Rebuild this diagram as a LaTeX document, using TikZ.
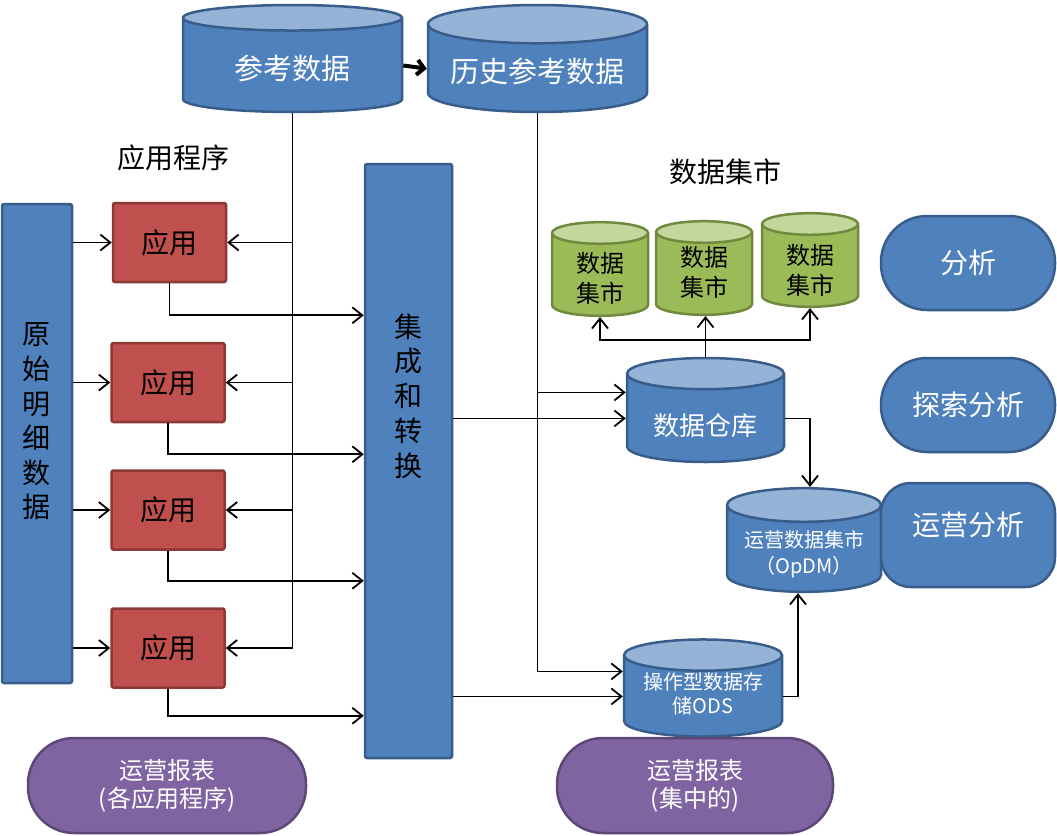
\documentclass[tikz,border=0pt]{standalone}
\usepackage{fontspec}
\setmainfont{Noto Sans CJK SC}
\usetikzlibrary{shapes.geometric,arrows.meta,positioning}

\definecolor{blueF}{HTML}{4F81BD}
\definecolor{blueD}{HTML}{385D8A}
\definecolor{blueT}{HTML}{95B3D7}
\definecolor{redF}{HTML}{C0504D}
\definecolor{redD}{HTML}{8C3836}
\definecolor{greenF}{HTML}{9BBB59}
\definecolor{greenD}{HTML}{71893F}
\definecolor{greenT}{HTML}{C3D69B}
\definecolor{purpleF}{HTML}{8064A2}
\definecolor{purpleD}{HTML}{5C4776}

\newcommand\fsz[2]{\fontsize{#1}{#2}\selectfont}
\newcommand\dbtext[2]{\raisebox{#1}[\height][\depth]{\begin{tabular}{@{}c@{}}#2\end{tabular}}}

\tikzset{
  db/.style={cylinder, shape border rotate=90, draw=blueD, line width=2.5pt,
    cylinder uses custom fill, cylinder body fill=blueF, cylinder end fill=blueT,
    text=white, inner sep=0pt, align=center, anchor=shape center},
  mart/.style={db, draw=greenD, cylinder body fill=greenF, cylinder end fill=greenT,
    text=black, font=\fsz{24}{30}, minimum width=96pt, minimum height=81pt},
  app/.style={rectangle, draw=redD, fill=redF, line width=2.5pt, rounded corners=2pt,
    minimum width=113pt, minimum height=79pt, font=\fsz{28}{34}},
  bar/.style={rectangle, draw=blueD, fill=blueF, line width=2.5pt, rounded corners=2pt},
  pill/.style={rectangle, rounded corners=46pt, draw=blueD, fill=blueF, line width=2.5pt,
    minimum width=174pt, minimum height=94pt, text=white, font=\fsz{28}{34}},
  report/.style={pill, draw=purpleD, fill=purpleF, minimum width=278pt, minimum height=95pt,
    align=center, font=\fsz{24}{28}},
  conn/.style={line width=1.8pt, -{Straight Barb[length=10pt,width=16pt]}},
}

\begin{document}
\begin{tikzpicture}[x=1pt, y=-1pt]
\useasboundingbox (0,0) rectangle (1057,835);

% reference data
\node[db, aspect=0.22, minimum width=219pt, minimum height=107pt, font=\fsz{29}{34}] (ref) at (292.5,58.5) {\dbtext{-7pt}{参考数据}};
\node[db, aspect=0.22, minimum width=219pt, minimum height=107pt, font=\fsz{29}{34}] (hist) at (537.5,58.5) {\dbtext{-7pt}{历史参考数据}};

% applications
\node[font=\fsz{28}{34}] (applbl) at (173,158) {应用程序};
\node[bar, minimum width=70pt, minimum height=479pt,
  label={[font=\fsz{28}{34.6}, align=center, yshift=22pt]center:原\\始\\明\\细\\数\\据}] (raw) at (37,443.5) {};
\node[app] (app1) at (169.5,242.5) {应用};
\node[app] (app2) at (168,382.5) {应用};
\node[app] (app3) at (168,510) {应用};
\node[app] (app4) at (168,648) {应用};
\node[bar, minimum width=87pt, minimum height=594pt,
  label={[font=\fsz{28}{34.8}, align=center, yshift=65pt]center:集\\成\\和\\转\\换}] (etl) at (408.5,461) {};

% marts and warehouse
\node[font=\fsz{28}{34}] (dmlbl) at (725,172) {数据集市};
\node[mart, aspect=0.45] (dm1) at (600,269) {\dbtext{-6pt}{数据\\集市}};
\node[mart, aspect=0.45] (dm2) at (704,268) {\dbtext{-1pt}{数据\\集市}};
\node[mart, aspect=0.45] (dm3) at (810,260) {\dbtext{-7pt}{数据\\集市}};
\node[db, aspect=0.3, minimum width=157pt, minimum height=104pt, font=\fsz{26}{32}] (dw) at (705.5,410) {\dbtext{-11pt}{数据仓库}};
\node[db, aspect=0.28, minimum width=154pt, minimum height=90pt, font=\fsz{20}{26}] (opdm) at (804,540) {\dbtext{-6pt}{运营数据集市\\（OpDM）}};
\node[db, aspect=0.26, minimum width=158pt, minimum height=80pt, font=\fsz{20}{24.5}] (ods) at (703,688) {\dbtext{0pt}{操作型数据存\\储ODS}};

% analysis
\node[pill] (ana) at (968,263) {\dbtext{-4pt}{分析}};
\node[pill] (explore) at (968,405) {探索分析};
\node[pill, rounded corners=30pt, minimum height=104pt] (opana) at (968,535) {\dbtext{6pt}{运营分析}};

% reports
\node[report] (rep1) at (167,785.5) {运营报表\\(各应用程序)};
\node[report, minimum width=276pt] (rep2) at (695,785.5) {运营报表\\(集中的)};

% connectors
\draw[line width=4pt, -{Straight Barb[length=7pt,width=15pt]}] (ref.east) -- (hist.west);
\draw[conn] (ref.south) |- (app4.east);
\foreach \i in {1,2,3} {
  \draw[conn] (ref.south |- app\i.east) -- (app\i.east);
}
\foreach \i in {1,...,4} {
  \draw[conn] (raw.east |- app\i.west) -- (app\i.west);
}
\foreach \i/\d in {1/32,2/31,3/30,4/27} {
  \draw[conn] (app\i.south) -- ++(0,\d) coordinate (c\i) -- (c\i -| etl.west);
}
\coordinate (dwin) at ([yshift=26pt]dw.west);
\draw[conn] (hist.south) |- ([yshift=25pt]ods.west);
\draw[conn] (dwin -| hist.south) -- (dwin);
\draw[conn] (etl.east |- dw.west) -- (dw.west);
\draw[conn] (etl.east |- ods.west) -- (ods.west);
\draw[conn] (dw.north) -- (dw.north |- dm2.south);
\coordinate (split) at (dw.north |- 0,340);
\draw[conn] (split) -| (dm1.south);
\draw[conn] (split) -| (dm3.south);
\draw[conn] (dw.east) -| ([xshift=6pt]opdm.north);
\draw[conn] (ods.east) -| ([xshift=-6pt]opdm.south);
\end{tikzpicture}
\end{document}
